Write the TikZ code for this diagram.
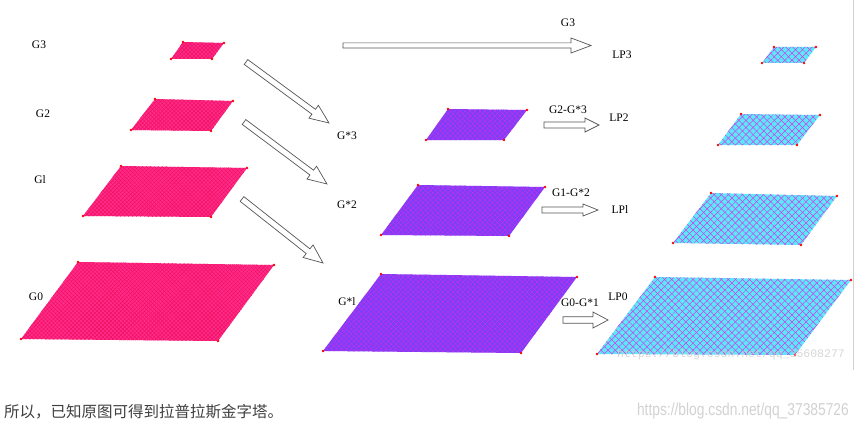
\documentclass[tikz,border=0pt]{standalone}
\usepackage{fontspec}
\setmainfont{Liberation Serif}
\newfontfamily\cjkfont{Noto Sans CJK SC}
\newfontfamily\wmsans{Liberation Sans}
\newfontfamily\wmmono{Liberation Mono}
\usetikzlibrary{calc,patterns.meta}
\definecolor{gbase}{HTML}{FF2C8A}
\definecolor{ghatch}{HTML}{F01060}
\definecolor{sbase}{HTML}{7840F8}
\definecolor{shatch}{HTML}{D82AE8}
\definecolor{lbase}{HTML}{5CE8FA}
\definecolor{lhatch}{HTML}{D03CE8}
\definecolor{arrowline}{HTML}{555555}
\tikzset{
  lab/.style={font=\fontsize{11.5}{13}\selectfont, inner sep=0pt},
  blockarrow/.style={draw=arrowline, line width=0.7pt, fill=white, line join=miter},
  cornerdot/.style={fill=red},
  gpara/.style={fill=gbase,
    postaction={pattern={Lines[angle=45,distance=2.8pt,line width=0.45pt]}, pattern color=ghatch},
    postaction={pattern={Lines[angle=-45,distance=2.8pt,line width=0.45pt]}, pattern color=ghatch}},
  spara/.style={fill=sbase,
    postaction={pattern={Lines[angle=45,distance=3.5pt,line width=0.35pt]}, pattern color=shatch},
    postaction={pattern={Lines[angle=-45,distance=3.5pt,line width=0.35pt]}, pattern color=shatch}},
  lpara/.style={fill=lbase,
    postaction={pattern={Lines[angle=45,distance=5pt,line width=0.5pt]}, pattern color=lhatch},
    postaction={pattern={Lines[angle=-45,distance=5pt,line width=0.5pt]}, pattern color=lhatch}},
}
% #1 style, #2-#5 corners
\newcommand\para[5]{%
  \fill[#1] #2 -- #3 -- #4 -- #5 -- cycle;
  \foreach \q in {#2,#3,#4,#5} \fill[cornerdot] \q circle (1.3);}
% #1 start, #2 tip, #3 shaft half width, #4 head half width, #5 head length
\newcommand\blockarr[5]{%
  \draw[blockarrow] let \p1=($(#2)-(#1)$), \n1={atan2(\y1,\x1)}, \n2={veclen(\x1,\y1)} in
    [shift={(#1)}, rotate=\n1] (0,-#3) -- ({\n2-#5},-#3) -- ({\n2-#5},-#4) -- (\n2,0)
    -- ({\n2-#5},#4) -- ({\n2-#5},#3) -- (0,#3) -- cycle;}
\begin{document}
\begin{tikzpicture}[x=1pt,y=1pt]
\useasboundingbox (0,0) rectangle (856,-428);
\fill[white] (0,0) rectangle (856,-428);
\draw[gray!35, line width=0.8pt] (853.5,0) -- (853.5,-370);

% Gaussian pyramid G
\para{gpara}{(183,-42)}{(224,-43)}{(212,-59)}{(171,-59)}
\para{gpara}{(155,-99)}{(233,-101)}{(211,-131)}{(131,-130)}
\para{gpara}{(121,-166)}{(247,-168)}{(211,-217)}{(83,-216)}
\para{gpara}{(78,-262)}{(274,-265)}{(218,-341)}{(21,-339)}

% expanded G*
\para{spara}{(448,-109)}{(527,-110)}{(504,-140)}{(426,-140)}
\para{spara}{(418,-185)}{(545,-187)}{(509,-236)}{(381,-235)}
\para{spara}{(381,-274)}{(577,-277)}{(521,-353)}{(323,-351)}

% Laplacian pyramid LP
\para{lpara}{(774,-47)}{(816,-47)}{(804,-63)}{(762,-63)}
\para{lpara}{(741,-114)}{(820,-115)}{(797,-145)}{(718,-145)}
\para{lpara}{(711,-193)}{(837,-196)}{(801,-245)}{(673,-243)}
\para{lpara}{(655,-277)}{(851,-280)}{(795,-355)}{(597,-354)}

% labels
\node[lab] (g3) at (39,-45) {G3};
\node[lab] (g2) at (43,-114) {G2};
\node[lab] (g1) at (40,-180) {Gl};
\node[lab] (g0) at (36,-297) {G0};
\node[lab] (gs3) at (347,-136) {G*3};
\node[lab] (gs2) at (347,-205) {G*2};
\node[lab] (gs1) at (347,-302) {G*l};
\node[lab] (g3top) at (568,-23) {G3};
\node[lab] (d2) at (568,-110) {G2-G*3};
\node[lab] (d1) at (571,-193) {G1-G*2};
\node[lab] (d0) at (580,-303) {G0-G*1};
\node[lab] (lp3) at (622,-55) {LP3};
\node[lab] (lp2) at (619,-118) {LP2};
\node[lab] (lp1) at (620,-210) {LPl};
\node[lab] (lp0) at (618,-297) {LP0};

% arrow end points
\coordinate (a1s) at (246,-62);  \coordinate (a1e) at (329,-123);
\coordinate (a2s) at (244,-122); \coordinate (a2e) at (327,-184);
\coordinate (a3s) at (242,-199); \coordinate (a3e) at (323,-263);
\coordinate (t0s) at (343,-45.5); \coordinate (t0e) at (591,-45.5);
\coordinate (r2s) at (544,-125); \coordinate (r2e) at (599,-125);
\coordinate (r1s) at (542,-210); \coordinate (r1e) at (598,-210);
\coordinate (r0s) at (563,-320); \coordinate (r0e) at (608,-320);

\blockarr{a1s}{a1e}{3}{8}{19}
\blockarr{a2s}{a2e}{3}{8}{19}
\blockarr{a3s}{a3e}{3}{8}{19}
\blockarr{t0s}{t0e}{2.6}{7.5}{20}
\blockarr{r2s}{r2e}{3}{7}{14}
\blockarr{r1s}{r1e}{3}{6}{15}
\blockarr{r0s}{r0e}{3.2}{8}{15}

% watermark on picture
\node[font=\wmmono\fontsize{11.5}{13}\selectfont, text=gray!40, opacity=0.8, inner sep=0pt] (wm1) at (731,-355) {https://blog.csdn.net/qq\_35608277};

% caption
\node[anchor=west, font=\cjkfont\fontsize{15.5}{18}\selectfont, text=black!75, inner sep=0pt] (cap) at (4,-412) {所以，已知原图可得到拉普拉斯金字塔。};
\node[anchor=east, font=\wmsans\fontsize{15}{18}\selectfont, text=gray!35, inner sep=0pt] (wm2) at (849,-411) {\scalebox{0.92}[1.15]{https://blog.csdn.net/qq\_37385726}};
\end{tikzpicture}
\end{document}
